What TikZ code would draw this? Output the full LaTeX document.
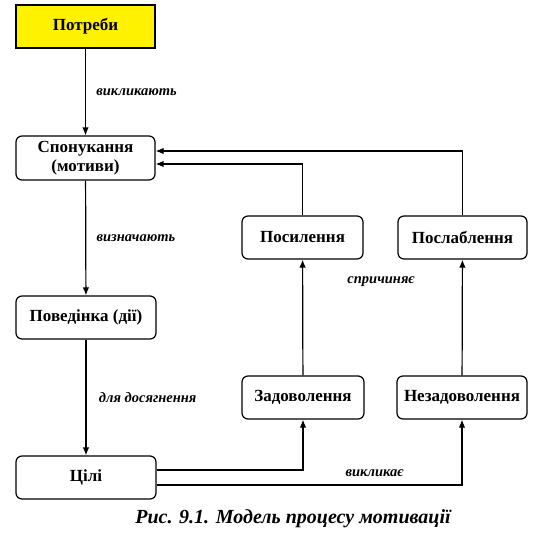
\documentclass[tikz,border=0pt]{standalone}
\usepackage{fontspec}
\setmainfont{Liberation Serif}
\usetikzlibrary{arrows.meta}

\begin{document}
\begin{tikzpicture}[x=1pt,y=-1pt,line width=1.2pt,>={Latex[length=8pt,width=6.5pt]}]
			\useasboundingbox (0,0) rectangle (542,535);
			\tikzset{box/.style={draw, rounded corners=6pt, minimum height=43pt, inner sep=0pt, align=center,
					font=\bfseries\fontsize{17}{19.5}\selectfont},
				lbl/.style={font=\bfseries\itshape\fontsize{14.5}{16}\selectfont}}

			\node[box, rounded corners=0pt, fill=yellow, minimum width=139pt] (potreby) at (85.5,26.5) {Потреби};
			\node[box, minimum width=139pt, minimum height=44pt] (sponuk) at (85.5,158) {Спонукання\\(мотиви)};
			\node[box, minimum width=140pt] (povedinka) at (86,317.5) {Поведінка (дії)};
			\node[box, minimum width=140pt] (tsili) at (86,477.5) {Цілі};

			\node[box, minimum width=121pt] (posyl) at (302.5,237.5) {Посилення};
			\node[box, minimum width=129pt] (poslab) at (462.5,237.5) {Послаблення};
			\node[box, minimum width=122pt] (zadov) at (303,397.5) {Задоволення};
			\node[box, minimum width=130pt] (nezadov) at (462,397.5) {Незадоволення};

			% left column
			\draw[->] (potreby) -- node[lbl, right=7pt]{викликають} (sponuk);
			\draw[->] (sponuk) -- node[lbl, right=7pt]{визначають} (povedinka);
			\draw[->] (povedinka) -- node[lbl, right=9pt]{для досягнення} (tsili);

			% from goals
			\draw[->] ([yshift=7.5pt]tsili.east) -| (zadov.south);
			\draw[->] ([yshift=-7.5pt]tsili.east) -| (nezadov.south);
			\node[lbl] (vyklykaie) at (374.5,473) {викликає};

			% up to the right boxes
			\draw[->] (zadov) -- (posyl);
			\draw[->] (nezadov) -- (poslab);
			\node[lbl] (sprych) at (381,282) {спричиняє};

			% back to motives
			\draw[->] (posyl.north) |- ([yshift=-6pt]sponuk.east);
			\draw[->] (poslab.north) |- ([yshift=7pt]sponuk.east);

			\node[font=\bfseries\itshape\fontsize{20}{23}\selectfont] (caption) at (293,519) {Рис. 9.1. Модель процесу мотивації};
		\end{tikzpicture}
\end{document}
